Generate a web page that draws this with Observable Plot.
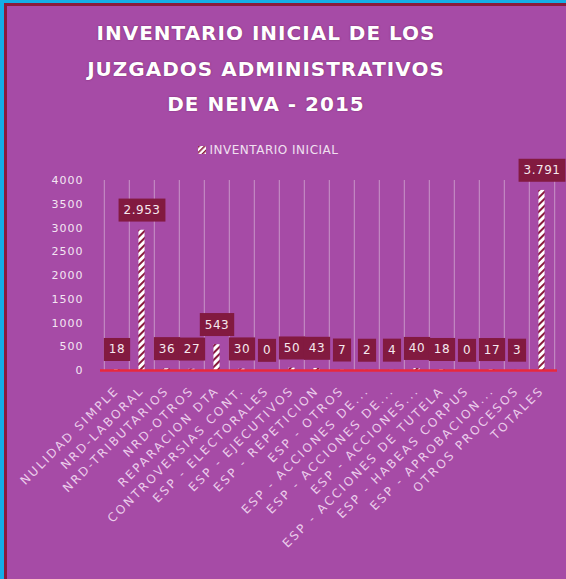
<!DOCTYPE html>
<html>
<head>
<meta charset="utf-8">
<script src="https://cdn.jsdelivr.net/npm/d3@7"></script>
<script src="https://cdn.jsdelivr.net/npm/@observablehq/plot@0.6"></script>
<style>
  html, body { margin: 0; padding: 0; overflow: hidden; background: #A64BA6; }
  #outer { position: relative; width: 566px; height: 579px; background: #14AEE6; overflow: hidden; }
  #frame { position: absolute; left: 4px; top: 3px; width: 600px; height: 620px; background: #A64BA6; border-left: 3px solid #8A1B3C; border-top: 3px solid #8A1B3C; }
  #content { position: absolute; left: 0; top: 0; width: 566px; height: 579px; }
  #title { height: 140px; padding-top: 16px; padding-right: 34px; box-sizing: border-box; text-align: center; color: #fff; font-family: "DejaVu Sans", sans-serif; font-weight: bold; font-size: 20px; line-height: 35.5px; letter-spacing: 1px; text-shadow: 0 0 1.5px rgba(90,10,60,0.7); }
  #legend { height: 20px; display: flex; justify-content: center; align-items: center; font-family: "DejaVu Sans", sans-serif; font-size: 12px; color: #F0E0F0; letter-spacing: 0.5px; padding-right: 30px; }
  #legend svg { margin-right: 4px; }
  #chart { margin-top: -5px; }
  #chart svg { overflow: visible; display: block; }
  g[aria-label="x-axis tick label"] text { letter-spacing: 2.3px; }
  g[aria-label="y-axis tick label"] text { letter-spacing: 1px; }
  g.labels text { letter-spacing: 0.5px; }
</style>
</head>
<body>
<div id="outer">
  <div id="frame"></div>
  <div id="content">
    <div id="title">INVENTARIO INICIAL DE LOS<br>JUZGADOS ADMINISTRATIVOS<br>DE NEIVA - 2015</div>
    <div id="legend"><svg width="8" height="8"><defs><pattern id="stripesL" patternUnits="userSpaceOnUse" width="4" height="4" patternTransform="rotate(45)"><rect width="4" height="4" fill="#fff"/><rect width="1.6" height="4" fill="#8A1B3C"/></pattern></defs><rect width="8" height="8" fill="url(#stripesL)"/></svg><span id="legendText"></span></div>
    <div id="chart"></div>
  </div>
</div>
<script>
const seriesName = "INVENTARIO INICIAL";
const categories = [
  "NULIDAD SIMPLE",
  "NRD-LABORAL",
  "NRD-TRIBUTARIOS",
  "NRD-OTROS",
  "REPARACION DTA",
  "CONTROVERSIAS CONT.",
  "ESP - ELECTORALES",
  "ESP - EJECUTIVOS",
  "ESP - REPETICION",
  "ESP - OTROS",
  "ESP - ACCIONES DE...",
  "ESP - ACCIONES DE...",
  "ESP - ACCIONES...",
  "ESP - ACCIONES DE TUTELA",
  "ESP - HABEAS CORPUS",
  "ESP - APROBACION...",
  "OTROS PROCESOS",
  "TOTALES"
];
const values = [18, 2953, 36, 27, 543, 30, 0, 50, 43, 7, 2, 4, 40, 18, 0, 17, 3, 3791];
const yTicks = [0, 500, 1000, 1500, 2000, 2500, 3000, 3500, 4000];

document.getElementById("legendText").textContent = seriesName;

const rows = categories.map((c, i) => ({i, cat: c, v: values[i]}));
const idx = rows.map(d => d.i);
const fmt = d3.formatLocale({decimal: ",", thousands: ".", grouping: [3], currency: ["$", ""]}).format(",d");

const W = 566, H = 424, mL = 100, mR = 9;
const bw = (W - mL - mR) / categories.length;
const inset = (bw - 6.5) / 2;

const plot = Plot.plot({
  width: W, height: H,
  marginTop: 25, marginBottom: 209, marginLeft: mL, marginRight: mR,
  style: {background: "transparent", fontFamily: "DejaVu Sans, sans-serif", overflow: "visible"},
  x: {type: "band", domain: idx, padding: 0, axis: null},
  y: {domain: [0, 4000], axis: null},
  marks: [
    Plot.ruleX(idx, {x: d => d, dx: -bw / 2, y1: 0, y2: 4000, stroke: "#C894C8", strokeWidth: 1}),
    Plot.ruleX([idx[idx.length - 1]], {x: d => d, dx: bw / 2, y1: 0, y2: 4000, stroke: "#C894C8", strokeWidth: 1}),
    Plot.axisY({ticks: yTicks, tickSize: 0, tickPadding: 17, tickFormat: d => String(d), fill: "#F3E6F3", fontSize: 11, label: null}),
    Plot.axisX({tickSize: 0, tickRotate: -45, tickPadding: 18, tickFormat: i => categories[i], fill: "#EBCDEB", fontSize: 12, label: null}),
    Plot.barY(rows, {x: "i", y: "v", fill: "url(#stripes)", insetLeft: inset, insetRight: inset}),
    Plot.ruleY([0], {stroke: "#E8283C", strokeWidth: 2.5}),
    Plot.text(rows, {x: "i", y: "v", text: d => fmt(d.v), dy: -20, fill: "#F6E8EE", fontSize: 12})
  ]
});

document.getElementById("chart").appendChild(plot);

const ns = "http://www.w3.org/2000/svg";
const defs = document.createElementNS(ns, "defs");
defs.innerHTML = '<pattern id="stripes" patternUnits="userSpaceOnUse" width="5" height="5" patternTransform="rotate(45)"><rect width="5" height="5" fill="#ffffff"/><rect width="2" height="5" fill="#8A1B3C"/></pattern>';
plot.insertBefore(defs, plot.firstChild);

plot.querySelectorAll('g[aria-label="text"]').forEach(lg => {
  lg.classList.add("labels");
  Array.from(lg.querySelectorAll("text")).forEach(t => {
    const b = t.getBBox();
    const r = document.createElementNS(ns, "rect");
    const padX = 5, h = 23;
    const cy = b.y + b.height / 2;
    r.setAttribute("x", b.x - padX);
    r.setAttribute("y", cy - h / 2);
    r.setAttribute("width", b.width + 2 * padX);
    r.setAttribute("height", h);
    r.setAttribute("fill", "#821A40");
    if (t.getAttribute("transform")) r.setAttribute("transform", t.getAttribute("transform"));
    t.parentNode.insertBefore(r, t);
  });
});
</script>
</body>
</html>
